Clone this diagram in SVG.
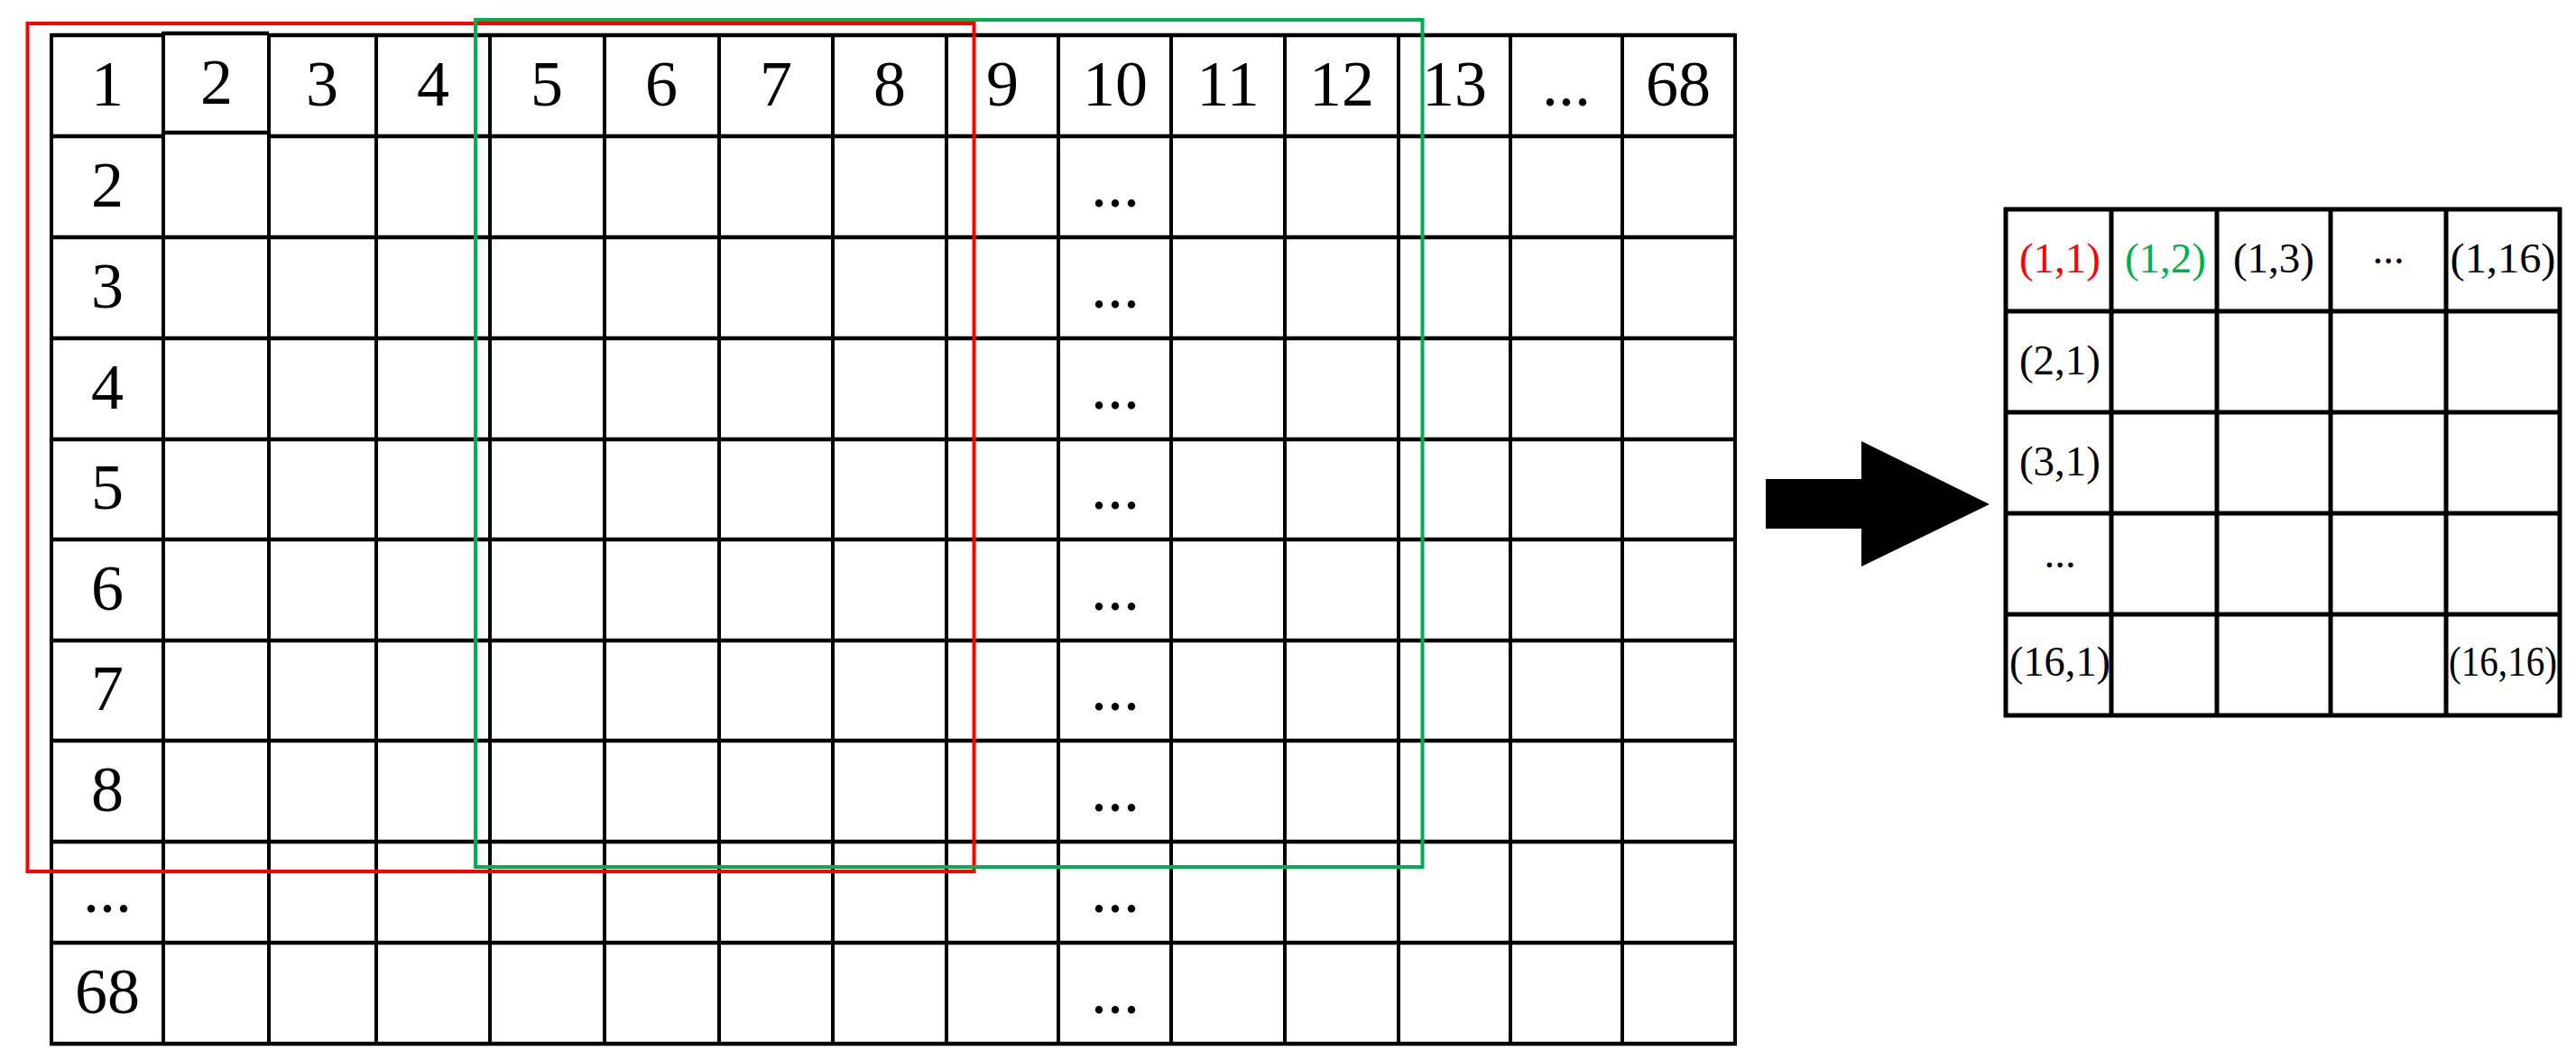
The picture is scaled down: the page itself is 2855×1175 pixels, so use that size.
<svg xmlns="http://www.w3.org/2000/svg" width="2855" height="1175" viewBox="0 0 2855 1175">
<style>
.h{stroke:#000;stroke-width:4.5;fill:none}
.v{stroke:#000;stroke-width:4;fill:none}
.h2{stroke:#000;stroke-width:5;fill:none}
.t{font-family:"Liberation Serif","Times New Roman",serif;font-size:72px;text-anchor:middle;fill:#000}
.s{font-family:"Liberation Serif","Times New Roman",serif;font-size:47px;text-anchor:middle;fill:#000}
</style>
<rect width="2855" height="1175" fill="#fff"/>
<g id="input-grid">
<path class="h" d="M57,39H181M298,39H1923M57,151H181M298,151H1923M57,263H1923M57,375H1923M57,487H1923M57,598H1923M57,710H1923M57,821H1923M57,933H1923M57,1045H1923M55,1157H1925"/>
<path class="v" d="M57,37V1159M298,37V1159M417,37V1159M543,37V1159M670,37V1159M797,37V1159M923,37V1159M1049,37V1159M1173,37V1159M1298,37V1159M1424,37V1159M1550,37V1159M1674,37V1159M1798,37V1159M1923,37V1159M181,148V1159"/>
<path class="h" d="M181,37H298M181,147H298"/>
<path class="v" d="M181,35V149"/>
<g class="t">
<text x="119" y="117">1</text><text x="240" y="115">2</text><text x="357" y="117">3</text><text x="480" y="117">4</text><text x="606" y="117">5</text><text x="733" y="117">6</text><text x="860" y="117">7</text><text x="986" y="117">8</text><text x="1111" y="117">9</text><text x="1236" y="117">10</text><text x="1361" y="117">11</text><text x="1487" y="117">12</text><text x="1612" y="117">13</text><text x="1736" y="117">...</text><text x="1860" y="117">68</text>
<text x="119" y="229">2</text><text x="119" y="341">3</text><text x="119" y="453">4</text><text x="119" y="564">5</text><text x="119" y="676">6</text><text x="119" y="787">7</text><text x="119" y="899">8</text><text x="119" y="1011">...</text><text x="119" y="1123">68</text>
<text x="1236" y="229">...</text><text x="1236" y="341">...</text><text x="1236" y="453">...</text><text x="1236" y="564">...</text><text x="1236" y="676">...</text><text x="1236" y="787">...</text><text x="1236" y="899">...</text><text x="1236" y="1011">...</text><text x="1236" y="1123">...</text>
</g>
</g>
<g id="window-1">
<rect x="30.5" y="26" width="1049" height="940" fill="none" stroke="#FF0000" stroke-width="4"/>
</g>
<g id="window-2">
<rect x="527" y="22" width="1049.5" height="939" fill="none" stroke="#00B050" stroke-width="4"/>
</g>
<g id="connectors">
<polygon points="1957,531 2063,531 2063,489 2205,559 2063,628 2063,586 1957,586" fill="#000"/>
</g>
<g id="output-grid">
<path class="h2" d="M2221,232H2839M2221,345H2839M2221,457H2839M2221,569H2839M2221,681H2839M2221,793H2839"/>
<path class="h2" d="M2223,230V795M2340,230V795M2457,230V795M2583,230V795M2711,230V795M2837,230V795"/>
<g class="s">
<text x="2283" y="302" fill="#FF0000">(1,1)</text>
<text x="2400" y="302" fill="#00B050">(1,2)</text>
<text x="2520" y="302">(1,3)</text>
<text x="2647" y="292">...</text>
<text x="2774" y="302" textLength="117" lengthAdjust="spacingAndGlyphs">(1,16)</text>
<text x="2283" y="415">(2,1)</text>
<text x="2283" y="527">(3,1)</text>
<text x="2283" y="629">...</text>
<text x="2283" y="749" textLength="112" lengthAdjust="spacingAndGlyphs">(16,1)</text>
<text x="2774" y="749" textLength="120" lengthAdjust="spacingAndGlyphs">(16,16)</text>
</g>
</g>
</svg>
